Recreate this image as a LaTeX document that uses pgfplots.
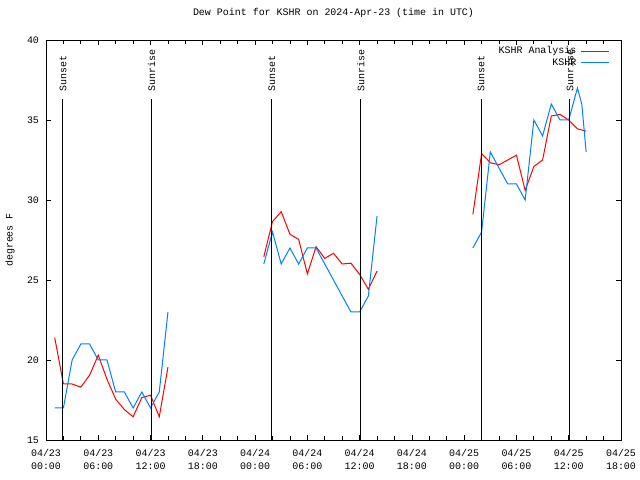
\documentclass[border=0pt]{standalone}
\usepackage{fontspec}
\setmainfont{Liberation Mono}
\usepackage{pgfplots}
\pgfplotsset{compat=1.18}
\definecolor{kred}{RGB}{255,0,0}
\definecolor{kblue}{RGB}{0,128,255}
\begin{document}
\fontsize{10}{13}\selectfont
\begin{tikzpicture}
\path[use as bounding box] (-46bp,-40bp) rectangle (594bp,440bp);
\begin{axis}[
  at={(0,0)}, anchor=south west,
  scale only axis, width=575bp, height=400bp,
  xmin=0, xmax=66, ymin=15, ymax=40,
  xtick={0,6,...,66}, minor x tick num=2,
  xticklabels={04/23\\00:00,04/23\\06:00,04/23\\12:00,04/23\\18:00,04/24\\00:00,04/24\\06:00,04/24\\12:00,04/24\\18:00,04/25\\00:00,04/25\\06:00,04/25\\12:00,04/25\\18:00},
  ytick={15,20,...,40},
  /pgf/number format/assume math mode=true,
  tick align=inside,
  major tick length=5bp, minor tick length=4bp,
  tick style={black, line width=0.8bp},
  axis line style={black, line width=0.8bp},
  every tick label/.append style={font=\fontsize{10}{13}\selectfont},
  xticklabel style={align=center, yshift=-5.5bp},
  yticklabel style={xshift=-3.5bp},
  title={Dew Point for KSHR on 2024-Apr-23 (time in UTC)},
  title style={at={(rel axis cs:0.5,1)}, anchor=center, yshift=21bp, font=\fontsize{10}{13}\selectfont},
  ylabel={degrees F},
  every axis y label/.style={at={([xshift=-36bp]rel axis cs:0,0.5)}, rotate=90, anchor=center, font=\fontsize{10}{13}\selectfont},
  unbounded coords=jump,
  legend style={at={(rel axis cs:0.981,0.9875)}, anchor=north east, draw=none, fill=none, inner sep=0pt,
    nodes={inner sep=1.5bp}, column sep=3bp, font=\fontsize{10}{13}\selectfont},
  legend cell align=right,
  legend plot pos=right,
  legend image code/.code={\draw[#1] (0bp,0bp) -- (28bp,0bp);},
]
\addplot[kred, line width=1bp] coordinates {
 (1,21.4) (2,18.5) (3,18.5) (4,18.3) (5,19.05) (6,20.3) (7,18.8) (8,17.55) (9,16.9) (10,16.45) (11,17.65) (12,17.8) (13,16.45) (14,19.55)
 (20,nan)
 (25,26.45) (26,28.65) (27,29.27) (28,27.86) (29,27.54) (30,25.38) (31,27.08) (32,26.35) (33,26.67) (34,26.0) (35,26.05) (36,25.35) (37,24.42) (38,25.56)
 (44,nan)
 (49,29.1) (50,32.9) (51,32.33) (52,32.2) (53,32.5) (54,32.8) (55,30.6) (56,32.1) (57,32.5) (58,35.25) (59,35.35) (60,35.0) (61,34.45) (62,34.3)
};
\addlegendentry{KSHR Analysis}
\addplot[kblue, line width=1bp] coordinates {
 (1,17) (2,17) (3,20) (4,21) (5,21) (6,20) (7,20) (8,18) (9,18) (10,17) (11,18) (12,17) (13,18) (14,23)
 (20,nan)
 (25,26) (26,28) (27,26) (28,27) (29,26) (30,27) (31,27) (32,26) (33,25) (34,24) (35,23) (36,23) (37,24) (38,29)
 (44,nan)
 (49,27) (50,28) (51,33) (52,32) (53,31) (54,31) (55,30) (56,35) (57,34) (58,36) (59,35) (60,35) (61,37) (61.5,36) (62,33)
};
\addlegendentry{KSHR}
\addplot[black, line width=1bp, forget plot] coordinates {(1.95,15) (1.95,36.31)};
\addplot[black, line width=1bp, forget plot] coordinates {(12.13,15) (12.13,36.31)};
\addplot[black, line width=1bp, forget plot] coordinates {(25.93,15) (25.93,36.31)};
\addplot[black, line width=1bp, forget plot] coordinates {(36.13,15) (36.13,36.31)};
\addplot[black, line width=1bp, forget plot] coordinates {(49.95,15) (49.95,36.31)};
\addplot[black, line width=1bp, forget plot] coordinates {(60.12,15) (60.12,36.31)};
\node[rotate=90, anchor=west, inner sep=0pt] at (axis cs:1.95,36.75) {Sunset};
\node[rotate=90, anchor=west, inner sep=0pt] at (axis cs:12.13,36.75) {Sunrise};
\node[rotate=90, anchor=west, inner sep=0pt] at (axis cs:25.93,36.75) {Sunset};
\node[rotate=90, anchor=west, inner sep=0pt] at (axis cs:36.13,36.75) {Sunrise};
\node[rotate=90, anchor=west, inner sep=0pt] at (axis cs:49.95,36.75) {Sunset};
\node[rotate=90, anchor=west, inner sep=0pt] at (axis cs:60.12,36.75) {Sunrise};
\end{axis}
\end{tikzpicture}
\end{document}
